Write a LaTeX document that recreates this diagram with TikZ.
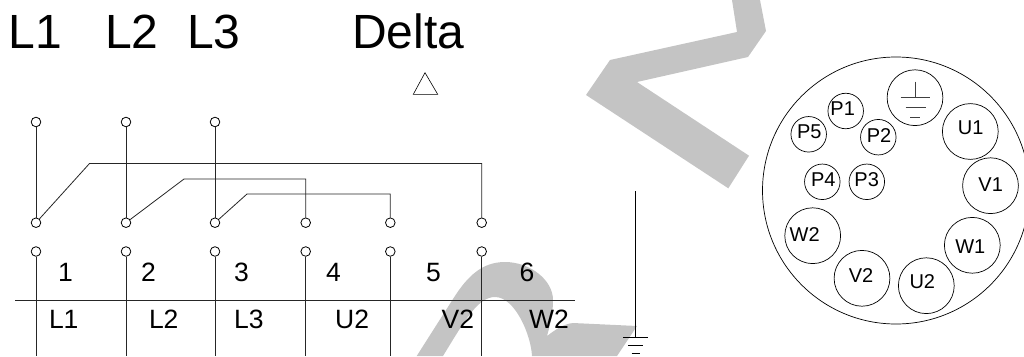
\documentclass[tikz,border=0pt]{standalone}
\usepackage{fontspec}
\setmainfont{Liberation Sans}
\definecolor{wm}{HTML}{C4C4C4}
\tikzset{
  x=1pt,y=-1pt,
  wire/.style={draw=black!85,line width=0.8pt,line join=miter},
  term/.style={circle,draw=black,line width=0.8pt,minimum size=9.6pt,inner sep=0pt},
  pin/.style={circle,draw=black,line width=0.7pt,minimum size=35.5pt,inner sep=0pt},
  bigpin/.style={circle,draw=black,line width=0.7pt,minimum size=55.8pt,inner sep=0pt},
  shell/.style={circle,draw=black,line width=0.7pt,minimum size=267pt,inner sep=0pt},
  title/.style={anchor=base west,inner sep=0pt,font=\fontsize{48}{48}\selectfont},
  lab/.style={anchor=base west,inner sep=0pt,font=\fontsize{26.5}{26.5}\selectfont},
  pinlab/.style={anchor=base,inner sep=0pt,font=\fontsize{20}{20}\selectfont}
}
\begin{document}
\begin{tikzpicture}
\useasboundingbox (0,0) rectangle (1024,356);
\clip (0,0) rectangle (1024,356);
% watermark
\fill[wm] (732,0) -- (737,32) -- (610,60) -- (586,95) -- (728.3,188.3) -- (749,155.7) -- (637,82) -- (748,57) -- (766,31) -- (760,0) -- cycle;
\fill[wm] (416.7,356) -- (453,299) .. controls (468,275) and (483,262) .. (505,262)
  .. controls (530,262) and (553,280) .. (553,300) .. controls (553,315) and (550,325) .. (547,336)
  .. controls (555,330) and (563,324) .. (573,323) -- (637,326) -- (617,356) -- (532,356)
  .. controls (531,335) and (515,297) .. (495,297)
  .. controls (478,297) and (465,320) .. (443,356) -- cycle;
% titles
\node[title] (tl1) at (8.8,48) {L1};
\node[title] (tl2) at (105,48) {L2};
\node[title] (tl3) at (187,48) {L3};
\node[title] (tdelta) at (352,48) {Delta};
\draw[line width=0.6pt,black] (425,72.7) -- (437.7,94.3) -- (413.3,94.3) -- cycle;
% terminals
\foreach \n/\x in {1/36,2/126,3/215}{\node[term] (a\n) at (\x,122) {};}
\foreach \n/\x in {1/36,2/126,3/215,4/305.7,5/390.3,6/481.7}{
  \node[term] (m\n) at (\x,222.7) {};
  \node[term] (b\n) at (\x,251.5) {};
  \coordinate (e\n) at (\x,356);
  \draw[wire] (b\n) -- (e\n);
}
\foreach \n in {1,2,3}{\draw[wire] (a\n) -- (m\n);}
\coordinate (k1) at (89.5,163.5);
\coordinate (k2) at (184,179);
\coordinate (k3) at (247,194);
\draw[wire] (m1) -- (k1) -- (k1 -| m6) -- (m6);
\draw[wire] (m2) -- (k2) -- (k2 -| m4) -- (m4);
\draw[wire] (m3) -- (k3) -- (k3 -| m5) -- (m5);
\coordinate (hl) at (15,300);
\coordinate (hr) at (575,300);
\draw[wire] (hl) -- (hr);
% ground wire
\coordinate (gt) at (635.3,191);
\coordinate (gb) at (635.3,337.5);
\draw[line width=0.7pt] (gt) -- (gb);
\draw[line width=0.7pt] (623,337.5) -- (648,337.5);
\draw[line width=0.7pt] (628,345.3) -- (643,345.3);
\draw[line width=0.7pt] (631.5,353) -- (639.5,353);
% labels
\foreach \t/\x in {1/58,2/141,3/234,4/326,5/426,6/519.5}{\node[lab] (n\t) at (\x,281.7) {\t};}
\foreach \t/\x in {L1/48.8,L2/148.8,L3/234,U2/335,V2/441.5,W2/529}{\node[lab] (l\t) at (\x,328) {\t};}
% connector
\node[shell] (shell) at (896,190.5) {};
\node[bigpin] (pg) at (915,97.7) {};
\draw[line width=0.7pt,black!75] (915,81.7) -- (915,97.7) (900.7,97.7) -- (930,97.7) (905.7,107.7) -- (925.7,107.7) (910.3,117.3) -- (920.3,117.3);
\foreach \t/\x/\y in {U1/970.3/131.5,V1/990.5/185.7,W1/972.3/245.3,U2/926.3/285.7,V2/862/278.3,W2/812.7/235.7}{\node[bigpin] (p\t) at (\x,\y) {};}
\foreach \t/\x/\y in {P1/845.7/111,P5/808.7/134.3,P2/878.3/137.2,P4/822.3/181.8,P3/866.8/181.8}{\node[pin] (p\t) at (\x,\y) {};}
\foreach \t/\x/\y in {P1/842.7/115.7,P5/809.3/138.3,P2/879/142.3,P4/823.3/186.7,P3/866.7/186.7,U1/970.7/134,V1/990.7/191,W1/970.3/253.7,U2/922.3/288.3,V2/861/282,W2/804.7/241}{\node[pinlab] (q\t) at (\x,\y) {\t};}
\end{tikzpicture}
\end{document}
